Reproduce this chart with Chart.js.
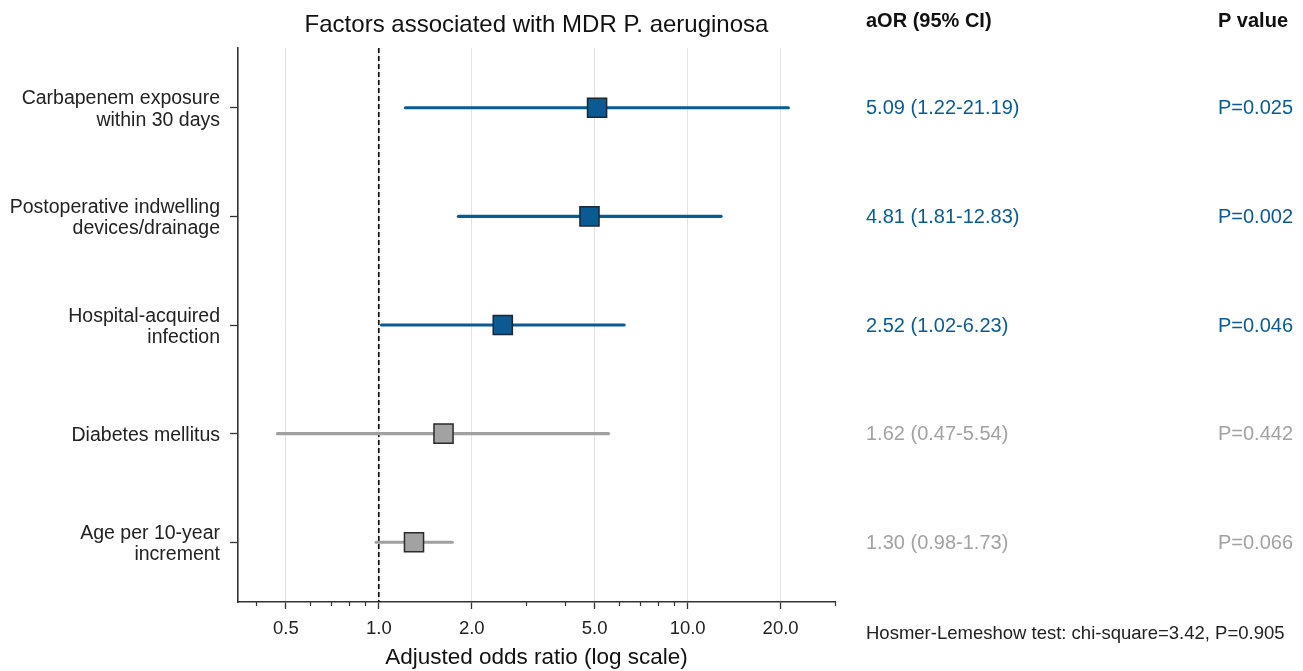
<!DOCTYPE html>
<html>
<head>
<meta charset="utf-8">
<script src="https://cdn.jsdelivr.net/npm/chart.js@4.4.1/dist/chart.umd.min.js"></script>
<style>
  html, body { margin: 0; padding: 0; background: #ffffff; }
  #wrap { width: 1303px; height: 671px; position: relative; }
</style>
</head>
<body>
<div id="wrap"><canvas id="forest"></canvas></div>
<script>
// Multivariable logistic regression results
const factors = [
  ['Carbapenem exposure', 'within 30 days'],
  ['Postoperative indwelling', 'devices/drainage'],
  ['Hospital-acquired', 'infection'],
  'Diabetes mellitus',
  ['Age per 10-year', 'increment']
];
const oddsRatios = [5.09, 4.81, 2.52, 1.62, 1.30];
const ciLower    = [1.22, 1.81, 1.02, 0.47, 0.98];
const ciUpper    = [21.19, 12.83, 6.23, 5.54, 1.73];
const pValues    = [0.025, 0.002, 0.046, 0.442, 0.066];
const hlTest     = { chiSquare: 3.42, p: 0.905 };

// Axis ticks
const majorTicks = [0.5, 1, 2, 5, 10, 20];
const minorTicks = [0.4, 0.6, 0.7, 0.8, 0.9, 3, 4, 6, 7, 8, 9, 30];

const BLUE = '#0b5b92';
const BLUE_EDGE = '#1b2733';
const GREY = '#a2a2a2';
const GREY_LINE = '#a0a0a0';
const GREY_EDGE = '#2a2a2a';
const FONT = '"Liberation Sans", Arial, Helvetica, sans-serif';

const significant = pValues.map(p => p < 0.05);
const rowIdx = oddsRatios.map((_, i) => i);

// Confidence interval segments, one line dataset per factor
const ciSets = rowIdx.map(i => ({
  type: 'line',
  data: [{ x: ciLower[i], y: i }, { x: ciUpper[i], y: i }],
  borderColor: significant[i] ? BLUE : GREY_LINE,
  borderWidth: 3.2,
  pointRadius: 0,
  borderCapStyle: 'round',
  order: 2
}));

// Reference line at OR = 1
const refLine = {
  type: 'line',
  data: [{ x: 1, y: -0.55 }, { x: 1, y: 4.55 }],
  borderColor: '#111111',
  borderWidth: 1.7,
  borderDash: [5, 3],
  pointRadius: 0,
  order: 3
};

const pointSet = {
  type: 'scatter',
  data: rowIdx.map(i => ({ x: oddsRatios[i], y: i })),
  pointStyle: 'rect',
  pointRadius: 13.5,
  pointHoverRadius: 13.5,
  pointBackgroundColor: significant.map(s => s ? BLUE : GREY),
  pointBorderColor: significant.map(s => s ? BLUE_EDGE : GREY_EDGE),
  pointBorderWidth: 1.5,
  order: 0
};

const fmt2 = v => v.toFixed(2);
const fmtP = v => 'P=' + v.toFixed(3);

// Title, side table and footnote
const annotations = {
  id: 'annotations',
  afterDraw(chart) {
    const { ctx, chartArea, scales } = chart;
    const ys = scales.y;
    const xs = scales.x;
    ctx.save();

    // minor ticks on the log axis
    ctx.strokeStyle = '#333333';
    ctx.lineWidth = 1.2;
    minorTicks.forEach(v => {
      const px = Math.round(xs.getPixelForValue(v)) + 0.5;
      ctx.beginPath();
      ctx.moveTo(px, chartArea.bottom);
      ctx.lineTo(px, chartArea.bottom + 4);
      ctx.stroke();
    });

    ctx.fillStyle = '#111111';
    ctx.font = '24px ' + FONT;
    ctx.textAlign = 'center';
    ctx.textBaseline = 'middle';
    ctx.fillText('Factors associated with MDR P. aeruginosa', (chartArea.left + chartArea.right) / 2, 25);

    ctx.font = 'bold 20px ' + FONT;
    ctx.textAlign = 'left';
    ctx.fillText('aOR (95% CI)', 866, 21);
    ctx.textAlign = 'right';
    ctx.fillText('P value', 1288, 21);

    ctx.font = '20px ' + FONT;
    rowIdx.forEach(i => {
      const py = ys.getPixelForValue(i) + 1;
      ctx.fillStyle = significant[i] ? BLUE : GREY;
      ctx.textAlign = 'left';
      ctx.fillText(fmt2(oddsRatios[i]) + ' (' + fmt2(ciLower[i]) + '-' + fmt2(ciUpper[i]) + ')', 866, py);
      ctx.textAlign = 'right';
      ctx.fillText(fmtP(pValues[i]), 1293, py);
    });

    ctx.fillStyle = '#222222';
    ctx.font = '18.5px ' + FONT;
    ctx.textAlign = 'left';
    ctx.fillText('Hosmer-Lemeshow test: chi-square=' + hlTest.chiSquare.toFixed(2) + ', P=' + hlTest.p.toFixed(3), 866, 634);
    ctx.restore();
  }
};

new Chart(document.getElementById('forest'), {
  data: { datasets: [pointSet, ...ciSets, refLine] },
  options: {
    responsive: true,
    maintainAspectRatio: false,
    animation: false,
    layout: { padding: { left: 0, right: 468, top: 48, bottom: 0 } },
    plugins: {
      legend: { display: false },
      tooltip: { enabled: false },
      title: { display: false }
    },
    scales: {
      x: {
        type: 'logarithmic',
        min: 0.35,
        max: 30,
        afterBuildTicks(scale) {
          scale.ticks = majorTicks.map(v => ({ value: v, major: true }));
        },
        afterFit(scale) { scale.height = 69; },
        ticks: {
          autoSkip: false,
          maxRotation: 0,
          padding: 9,
          color: '#222222',
          font: { family: FONT, size: 18.5 },
          callback: v => Number(v).toFixed(1)
        },
        grid: {
          color: '#e2e2e2',
          lineWidth: 1,
          drawTicks: true,
          tickLength: 7,
          tickColor: '#333333',
          tickWidth: 1.3
        },
        border: { display: true, color: '#333333', width: 1.6 },
        title: {
          display: true,
          text: 'Adjusted odds ratio (log scale)',
          color: '#111111',
          font: { family: FONT, size: 22.5 },
          padding: { top: 0, bottom: 0 }
        }
      },
      y: {
        type: 'linear',
        reverse: true,
        min: -0.55,
        max: 4.55,
        afterBuildTicks(scale) {
          scale.ticks = rowIdx.map(i => ({ value: i }));
        },
        afterFit(scale) { scale.width = 238; },
        ticks: {
          autoSkip: false,
          padding: 10,
          labelOffset: 2,
          color: '#222222',
          font: { family: FONT, size: 19.5, lineHeight: 1.1 },
          callback: (v) => factors[v]
        },
        grid: {
          drawOnChartArea: false,
          drawTicks: true,
          tickLength: 8,
          tickColor: '#333333',
          tickWidth: 1.3
        },
        border: { display: true, color: '#333333', width: 1.6 }
      }
    }
  },
  plugins: [annotations]
});
</script>
</body>
</html>
